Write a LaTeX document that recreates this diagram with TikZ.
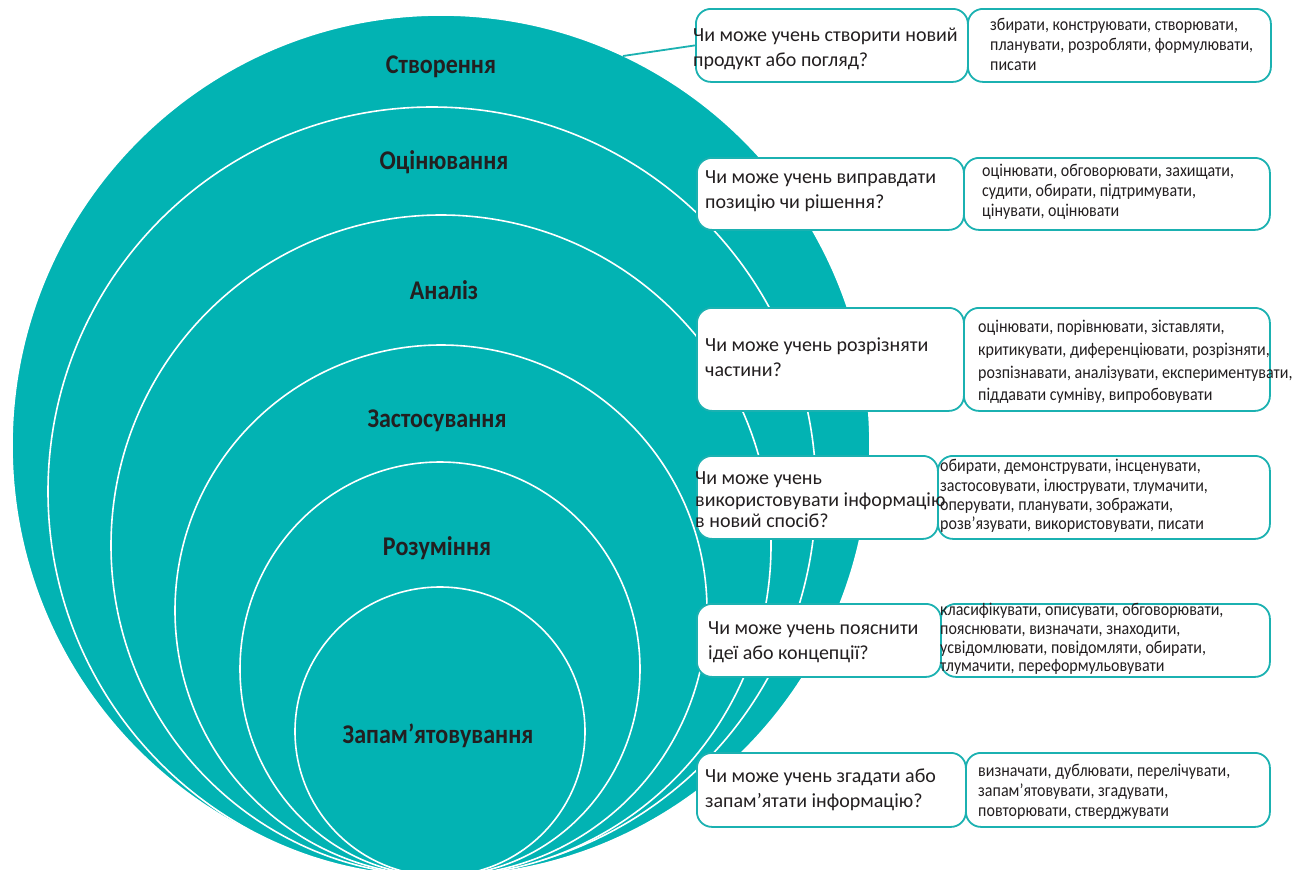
\documentclass[tikz,border=0pt]{standalone}
\usepackage{fontspec}
\setmainfont{Carlito}
\newfontfamily\condfont[FakeStretch=0.89]{Carlito}
\definecolor{tealfill}{HTML}{02B3B3}
\definecolor{tealline}{HTML}{1BB1B1}
\definecolor{ink}{HTML}{231F20}

\tikzset{
  level/.style={fill=tealfill, draw=white, line width=1.6pt},
  lvlabel/.style={font=\condfont\fontsize{27}{30}\selectfont\bfseries, text=ink, inner sep=0pt},
  box/.style={draw=tealline, fill=white, line width=1.8pt, rounded corners=15pt,
    inner sep=0pt, anchor=north west},
  qtext/.style={font=\fontsize{20}{25}\selectfont, align=left, anchor=west,
    inner sep=0pt, text=ink},
  atext/.style={font=\condfont\fontsize{18}{20}\selectfont, align=left, anchor=west,
    inner sep=0pt, text=ink},
  link/.style={draw=tealline, line width=1.8pt}
}

\begin{document}
\begin{tikzpicture}[x=1pt, y=-1pt]
\useasboundingbox (0,0) rectangle (1296,870);

% nested levels, all meeting near the bottom edge
\begin{scope}
  \clip (0,0) rectangle (1296,870);
  \path[level] (441,445.5) ellipse [x radius=429, y radius=430.5];
  \path[level] (432,491.5) ellipse [x radius=384, y radius=384.5];
  \path[level] (441,545.5) ellipse [x radius=330, y radius=330.5];
  \path[level] (441,610.5) ellipse [x radius=266, y radius=265.5];
  \path[level] (440,669)   ellipse [x radius=200, y radius=207];
  \path[level] (440,731.5) ellipse [x radius=145, y radius=144.5];
\end{scope}

% level names
\node[lvlabel] (l6) at (441,67)  {Створення};
\node[lvlabel] (l5) at (444,162) {Оцінювання};
\node[lvlabel] (l4) at (444,290) {Аналіз};
\node[lvlabel] (l3) at (437,421) {Застосування};
\node[lvlabel] (l2) at (437,548) {Розуміння};
\node[lvlabel] (l1) at (438,736) {Запам’ятовування};

% row 1: creating
\node[box, minimum width=303pt, minimum height=73pt] (a1) at (967,8) {};
\node[box, minimum width=272pt, minimum height=73pt] (q1) at (695,8) {};
\node[qtext] (qt1) at (693,49) {Чи може учень створити новий\\продукт або погляд?};
\node[atext] (at1) at (990,44) {збирати, конструювати, створювати,\\планувати, розробляти, формулювати,\\писати};
\coordinate (e1) at (623,56);
\draw[link] (e1) -- (q1.west);

% row 2: evaluating
\node[box, minimum width=306pt, minimum height=72pt] (a2) at (963,157) {};
\node[box, minimum width=267pt, minimum height=72pt] (q2) at (696,157) {};
\node[qtext] (qt2) at (705,191) {Чи може учень виправдати\\позицію чи рішення?};
\node[atext] (at2) at (982,192) {оцінювати, обговорювати, захищати,\\судити, обирати, підтримувати,\\цінувати, оцінювати};

% row 3: analysing
\node[box, minimum width=306pt, minimum height=103pt] (a3) at (963,307) {};
\node[box, minimum width=267pt, minimum height=103pt] (q3) at (696,307) {};
\node[qtext] (qt3) at (705,357) {Чи може учень розрізняти\\частини?};
\node[atext, font=\condfont\fontsize{18}{22.6}\selectfont] (at3) at (978,362)
  {оцінювати, порівнювати, зіставляти,\\критикувати, диференціювати, розрізняти,\\розпізнавати, аналізувати, експериментувати,\\піддавати сумніву, випробовувати};

% row 4: applying
\node[box, minimum width=332pt, minimum height=83pt] (a4) at (937,455) {};
\node[box, minimum width=241pt, minimum height=83pt] (q4) at (696,455) {};
\node[qtext, font=\fontsize{20}{21.5}\selectfont] (qt4) at (695,500)
  {Чи може учень\\використовувати інформацію\\в новий спосіб?};
\node[atext, font=\condfont\fontsize{18}{19.3}\selectfont] (at4) at (940,496)
  {обирати, демонструвати, інсценувати,\\застосовувати, ілюструвати, тлумачити,\\оперувати, планувати, зображати,\\розв’язувати, використовувати, писати};

% row 5: understanding
\node[box, minimum width=329pt, minimum height=73pt] (a5) at (940,603) {};
\node[box, minimum width=244pt, minimum height=73pt] (q5) at (696,603) {};
\node[qtext] (qt5) at (708,642) {Чи може учень пояснити\\ідеї або концепції?};
\node[atext, font=\condfont\fontsize{18}{18.7}\selectfont] (at5) at (940,639)
  {класифікувати, описувати, обговорювати,\\пояснювати, визначати, знаходити,\\усвідомлювати, повідомляти, обирати,\\тлумачити, переформульовувати};

% row 6: remembering
\node[box, minimum width=304pt, minimum height=74pt] (a6) at (965,752) {};
\node[box, minimum width=269pt, minimum height=74pt] (q6) at (696,752) {};
\node[qtext] (qt6) at (705,790) {Чи може учень згадати або\\запам’ятати інформацію?};
\node[atext] (at6) at (978,792) {визначати, дублювати, перелічувати,\\запам’ятовувати, згадувати,\\повторювати, стверджувати};
\end{tikzpicture}
\end{document}
